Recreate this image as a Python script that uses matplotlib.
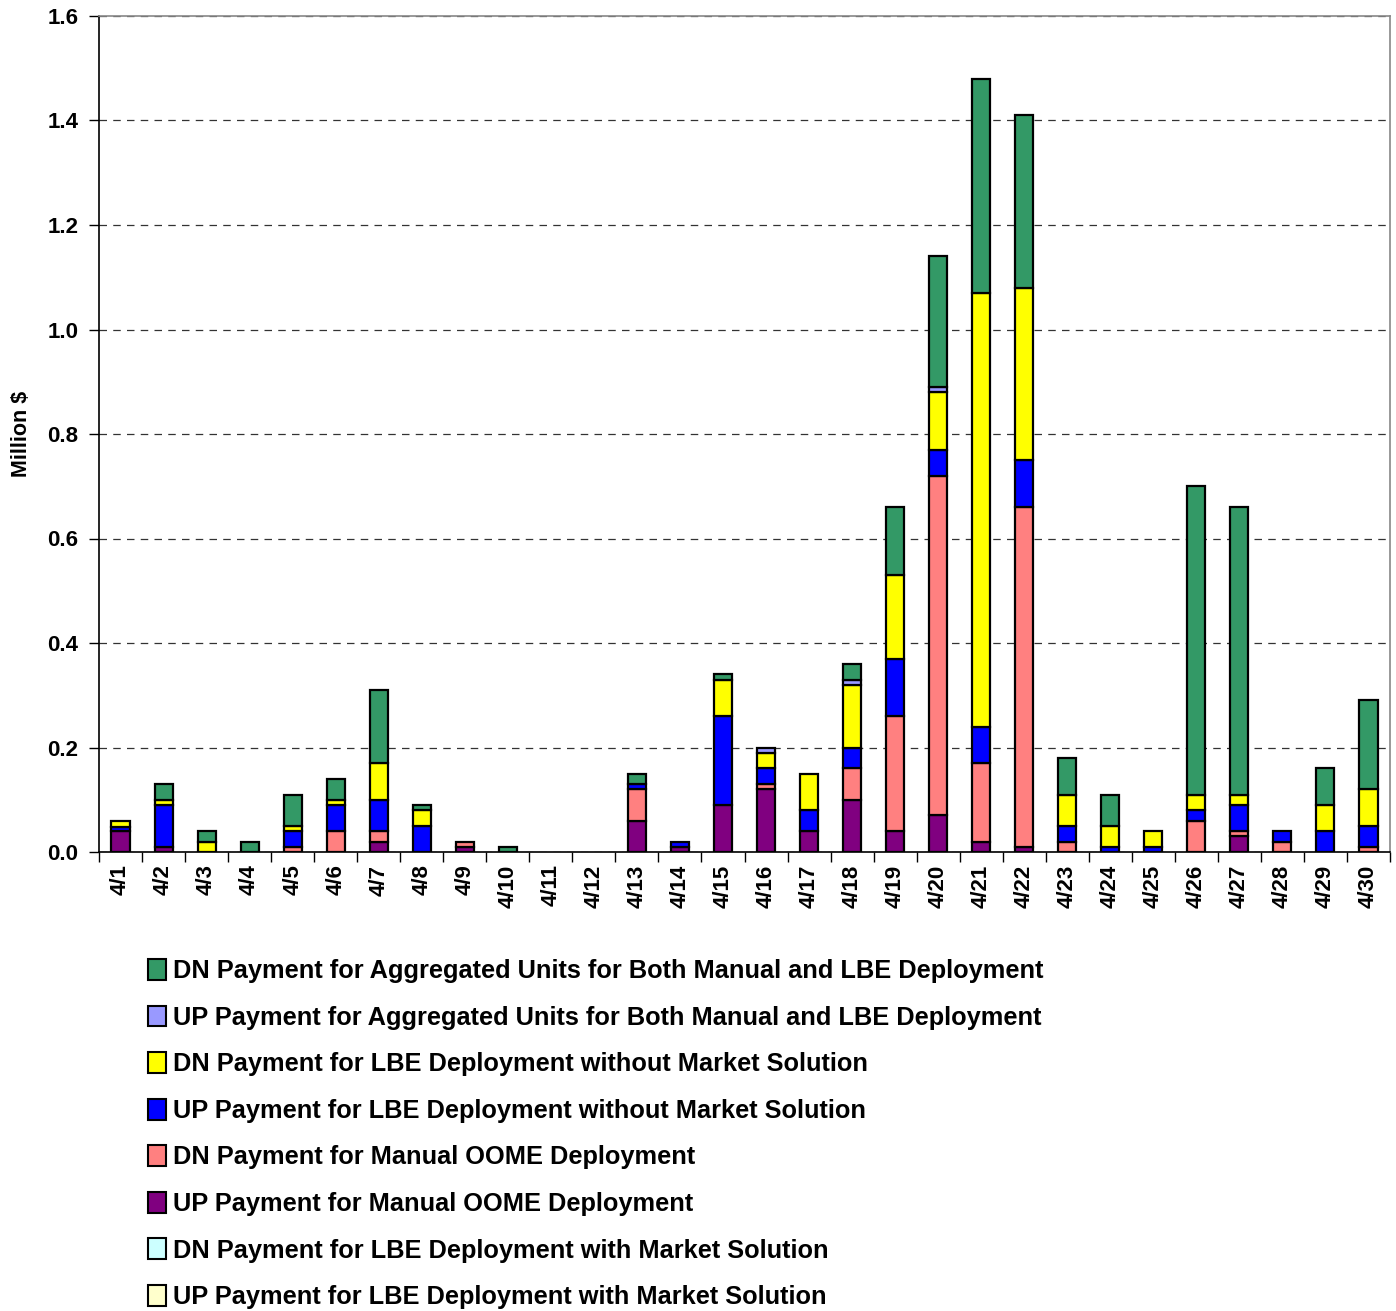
import numpy as np
import matplotlib.pyplot as plt
from matplotlib.patches import Patch

plt.rcParams['font.family'] = ['Liberation Sans', 'DejaVu Sans']
plt.rcParams['font.weight'] = 'bold'

days = ["4/%d" % d for d in range(1, 31)]

# values in million $, stacked bottom -> top
up_oome = [0.04, 0.01, 0, 0, 0, 0, 0.02, 0, 0.01, 0,
           0, 0, 0.06, 0.01, 0.09, 0.12, 0.04, 0.10, 0.04, 0.07,
           0.02, 0.01, 0, 0, 0, 0, 0.03, 0, 0, 0]
dn_oome = [0, 0, 0, 0, 0.009, 0.04, 0.02, 0, 0.01, 0,
           0, 0, 0.06, 0, 0, 0.01, 0, 0.06, 0.22, 0.65,
           0.15, 0.65, 0.02, 0, 0, 0.06, 0.01, 0.02, 0, 0.01]
up_lbe_wo = [0.008, 0.079, 0, 0, 0.031, 0.05, 0.06, 0.05, 0, 0,
             0, 0, 0.01, 0.01, 0.17, 0.03, 0.04, 0.04, 0.11, 0.05,
             0.07, 0.09, 0.03, 0.01, 0.01, 0.02, 0.05, 0.02, 0.04, 0.04]
dn_lbe_wo = [0.012, 0.011, 0.02, 0, 0.01, 0.01, 0.07, 0.03, 0, 0,
             0, 0, 0, 0, 0.07, 0.03, 0.07, 0.12, 0.16, 0.11,
             0.83, 0.33, 0.06, 0.04, 0.03, 0.03, 0.02, 0, 0.05, 0.07]
up_agg = [0, 0, 0, 0, 0, 0, 0, 0, 0, 0,
          0, 0, 0, 0, 0, 0.01, 0, 0.01, 0, 0.01,
          0, 0, 0, 0, 0, 0, 0, 0, 0, 0]
dn_agg = [0, 0.03, 0.02, 0.02, 0.06, 0.04, 0.14, 0.01, 0, 0.01,
          0, 0, 0.02, 0, 0.01, 0, 0, 0.03, 0.13, 0.25,
          0.41, 0.33, 0.07, 0.06, 0, 0.59, 0.55, 0, 0.07, 0.17]
dn_lbe_w = [0] * 30
up_lbe_w = [0] * 30

stack = [
    (up_oome, "#800080"),
    (dn_oome, "#FF8080"),
    (up_lbe_wo, "#0000FF"),
    (dn_lbe_wo, "#FFFF00"),
    (up_agg, "#9999FF"),
    (dn_agg, "#339966"),
    (dn_lbe_w, "#CCFFFF"),
    (up_lbe_w, "#FFFFCC"),
]

legend_items = [
    ("DN Payment for Aggregated Units for Both Manual and LBE Deployment", "#339966"),
    ("UP Payment for Aggregated Units for Both Manual and LBE Deployment", "#9999FF"),
    ("DN Payment for LBE Deployment without Market Solution", "#FFFF00"),
    ("UP Payment for LBE Deployment without Market Solution", "#0000FF"),
    ("DN Payment for Manual OOME Deployment", "#FF8080"),
    ("UP Payment for Manual OOME Deployment", "#800080"),
    ("DN Payment for LBE Deployment with Market Solution", "#CCFFFF"),
    ("UP Payment for LBE Deployment with Market Solution", "#FFFFCC"),
]

fig = plt.figure(figsize=(13.96, 13.11), dpi=100)
ax = fig.add_axes([99 / 1396, 1 - 852 / 1311, 1291 / 1396, 836 / 1311])

x = np.arange(len(days))
bottom = np.zeros(len(days))
for vals, col in stack:
    v = np.array(vals, dtype=float)
    mask = v > 0
    if mask.any():
        ax.bar(x[mask], v[mask], width=0.42, bottom=bottom[mask], color=col,
               edgecolor="black", linewidth=1.6, zorder=3)
    bottom += v

ax.set_xlim(-0.5, len(days) - 0.5)
ax.set_ylim(0, 1.6)
ax.set_yticks(np.arange(0, 1.61, 0.2))
ax.set_yticklabels(["%.1f" % t for t in np.arange(0, 1.61, 0.2)], fontsize=16, fontweight="bold")
ax.yaxis.grid(True, linestyle=(0, (6, 5)), color="#333333", linewidth=0.9, zorder=0)

ax.set_xticks(np.arange(-0.5, len(days), 1.0))
ax.set_xticklabels([])
ax.set_xticks(x, minor=True)
ax.set_xticklabels(days, minor=True, rotation=90, fontsize=16, fontweight="bold")
ax.tick_params(axis="x", which="major", direction="out", length=7, width=1)
ax.tick_params(axis="x", which="minor", length=0, pad=9)
ax.tick_params(axis="y", direction="out", length=7, width=1, pad=8)

ax.spines["top"].set_color("#888888")
ax.spines["right"].set_color("#888888")
for s in ax.spines.values():
    s.set_linewidth(1.2)

ax.set_ylabel("Million $", fontsize=15.5, fontweight="bold", labelpad=11)

handles = [Patch(facecolor=c, edgecolor="black", linewidth=1.5) for _, c in legend_items]
labels = [l for l, _ in legend_items]
fig.legend(handles, labels, loc="upper left", bbox_to_anchor=(138 / 1396, 1 - 949 / 1311),
           frameon=False, prop={"size": 18.3, "weight": "bold"},
           handlelength=0.7, handleheight=0.88, handletextpad=0.28, labelspacing=0.88,
           borderaxespad=0)

fig.savefig("out.png", dpi=100)
